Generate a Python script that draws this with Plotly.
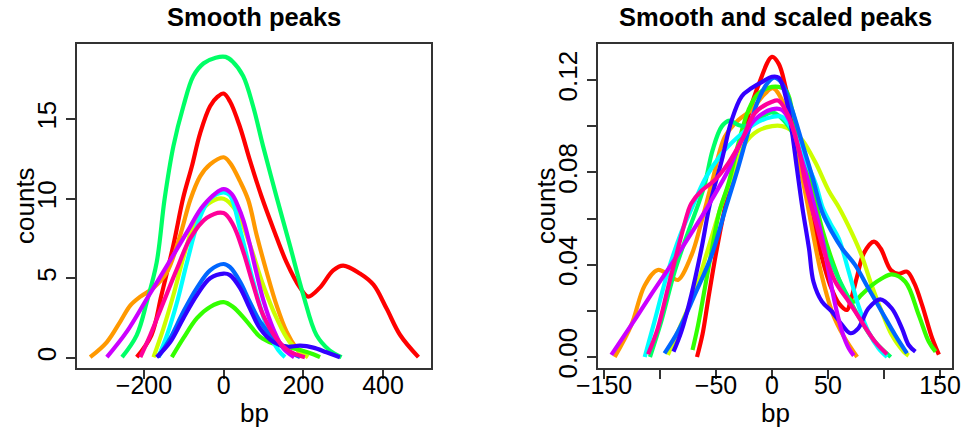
import plotly.graph_objects as go

# ---------------- data: left panel "Smooth peaks" (bp, counts) ----------------
left_red_bp = [-218, -181, -156, -126, -101, -80, -59, -34, -15, 0, 16, 41, 66, 95, 125, 158, 192, 212, 241, 275, 300, 342, 376, 409, 443, 489]
left_red_counts = [0.05, 1.44, 3.95, 7.1, 10.1, 12.0, 14.1, 15.8, 16.4, 16.6, 16.1, 14.5, 12.4, 10.15, 8.1, 6.0, 4.4, 3.85, 4.4, 5.5, 5.8, 5.3, 4.6, 3.1, 1.44, 0.05]
left_orange_bp = [-335, -293, -259, -234, -209, -176, -142, -109, -84, -59, -34, 0, 16, 41, 62, 83, 108, 133, 158, 183, 204]
left_orange_counts = [0.05, 1.0, 2.3, 3.3, 3.85, 4.4, 5.4, 7.7, 9.9, 11.4, 12.15, 12.6, 12.25, 11.1, 9.9, 7.7, 5.4, 3.3, 1.65, 0.6, 0.05]
left_yellow_bp = [-176, -151, -126, -101, -71, -38, 0, 32, 66, 99, 133, 166, 212]
left_yellow_counts = [0.05, 1.86, 3.95, 6.3, 8.6, 9.7, 10.0, 9.2, 7.1, 4.6, 2.5, 1.0, 0.05]
left_green_bp = [-130, -101, -67, -34, 0, 24, 58, 91, 125, 158, 192, 225, 242]
left_green_counts = [0.05, 1.24, 2.5, 3.2, 3.5, 3.2, 2.3, 1.34, 0.9, 0.71, 0.5, 0.23, 0.05]
left_spring_bp = [-255, -218, -193, -168, -148, -126, -101, -76, -50, -20, 5, 23, 49, 74, 99, 133, 166, 200, 233, 265, 296]
left_spring_counts = [0.05, 1.44, 3.5, 6.0, 10.0, 13.3, 15.8, 17.7, 18.5, 18.85, 18.9, 18.6, 17.7, 15.8, 13.3, 10.1, 7.1, 3.95, 1.44, 0.5, 0.05]
left_cyan_bp = [-164, -142, -117, -92, -63, -34, 0, 16, 41, 66, 91, 116, 137, 154]
left_cyan_counts = [0.05, 1.44, 3.5, 6.0, 8.6, 10.0, 10.4, 10.2, 8.1, 5.6, 3.3, 1.44, 0.5, 0.05]
left_blue_bp = [-164, -134, -101, -67, -34, 0, 16, 41, 66, 91, 125, 158, 192]
left_blue_counts = [0.05, 1.24, 2.9, 4.4, 5.5, 5.9, 5.7, 4.8, 3.5, 2.3, 1.24, 0.5, 0.05]
left_violet_bp = [-168, -134, -101, -67, -34, 0, 16, 41, 66, 91, 125, 158, 192, 225, 258, 292]
left_violet_counts = [0.05, 1.0, 2.5, 3.95, 5.0, 5.3, 5.2, 4.4, 3.1, 1.86, 1.0, 0.71, 0.77, 0.65, 0.36, 0.05]
left_purple_bp = [-293, -243, -193, -142, -92, -50, 0, 20, 35, 50, 65, 80, 100, 125, 150, 177]
left_purple_counts = [0.05, 1.65, 3.7, 5.8, 7.9, 9.6, 10.6, 10.3, 9.6, 8.6, 7.2, 5.6, 3.6, 1.8, 0.6, 0.05]
left_pink_bp = [-209, -184, -151, -117, -84, -42, 0, 24, 49, 74, 99, 133, 166, 204]
left_pink_counts = [0.05, 1.44, 3.5, 5.6, 7.5, 8.8, 9.1, 8.35, 6.7, 4.6, 2.7, 1.2, 0.4, 0.05]

# ---------------- data: right panel "Smooth and scaled peaks" ----------------
right_red_bp = [-67, -62, -57, -50, -42, -33, -24, -12, 0, 6, 12, 20, 28, 36, 44, 52, 60, 67, 70, 76, 82, 91, 97, 106, 113, 120.5, 127, 134, 143, 149]
right_red_counts = [0.0, 0.01, 0.025, 0.045, 0.065, 0.085, 0.1, 0.118, 0.130, 0.127, 0.117, 0.098, 0.078, 0.06, 0.044, 0.031, 0.023, 0.0204, 0.024, 0.035, 0.045, 0.050, 0.047, 0.0377, 0.036, 0.037, 0.032, 0.0225, 0.0081, 0.001]
right_orange_bp = [-140.5, -125.6, -113.7, -102, -90, -84, -72, -63, -54, -42, -30, -18.5, -6.5, 1, 12, 20, 26, 31, 36, 43.5, 54, 64, 76]
right_orange_counts = [0.0, 0.0139, 0.031, 0.0377, 0.0348, 0.0334, 0.044, 0.0586, 0.075, 0.0955, 0.1027, 0.107, 0.114, 0.1164, 0.108, 0.095, 0.08, 0.068, 0.055, 0.037, 0.019, 0.009, 0.0]
right_yellow_bp = [-93, -84, -69, -57, -45, -36, -24, -12.5, 0, 9, 18, 27, 39, 50.6, 59.5, 71, 80, 89, 98, 107, 117.6, 122]
right_yellow_counts = [0.0009, 0.011, 0.0283, 0.047, 0.066, 0.078, 0.0926, 0.098, 0.100, 0.100, 0.098, 0.094, 0.084, 0.072, 0.065, 0.054, 0.044, 0.031, 0.0196, 0.0095, 0.0023, 0.0006]
right_green_bp = [-71, -66, -60, -53, -47, -39, -30, -21, -12.5, 0, 12, 18, 24, 35, 45, 55, 65, 73, 80, 89, 98, 107, 119, 131, 140, 146]
right_green_counts = [0.003, 0.0139, 0.0298, 0.0485, 0.063, 0.075, 0.0926, 0.107, 0.114, 0.117, 0.1157, 0.107, 0.0955, 0.075, 0.055, 0.04, 0.028, 0.024, 0.027, 0.031, 0.034, 0.0358, 0.0326, 0.0182, 0.0066, 0.0023]
right_spring_bp = [-109, -99, -87, -75, -66, -60, -53, -45, -38, -30, -24, -12, 0, 15, 25, 35, 44.6, 56.5, 68.5, 80, 92, 106]
right_spring_counts = [0.0, 0.0153, 0.037, 0.054, 0.066, 0.075, 0.0897, 0.0998, 0.1024, 0.1005, 0.1, 0.103, 0.106, 0.0998, 0.088, 0.07, 0.0514, 0.037, 0.0254, 0.0153, 0.0066, 0.0]
right_cyan_bp = [-113.7, -105, -93, -81, -72, -60, -45, -30, -15.5, 0, 9, 21, 30, 39, 45, 52, 59.5, 68.5, 77, 86, 95, 102.7]
right_cyan_counts = [0.0, 0.0153, 0.037, 0.054, 0.064, 0.077, 0.088, 0.0955, 0.101, 0.104, 0.104, 0.0955, 0.085, 0.075, 0.065, 0.058, 0.0514, 0.037, 0.0225, 0.011, 0.0038, 0.0]
right_blue_bp = [-96, -84, -69, -54, -41, -30, -21, -12.5, -3.6, 2, 9, 18, 27, 36, 44.6, 53.6, 62.5, 74, 86, 98, 110, 120.5]
right_blue_counts = [0.0016, 0.011, 0.027, 0.044, 0.065, 0.0825, 0.098, 0.111, 0.119, 0.121, 0.1185, 0.107, 0.0926, 0.078, 0.063, 0.054, 0.047, 0.040, 0.0298, 0.0196, 0.0095, 0.0016]
right_violet_bp = [-88, -81, -72, -63, -55.6, -45, -36, -27, -18.5, -9.5, 0, 6, 13, 18, 22, 27, 33, 37, 44.6, 53.6, 62.5, 70, 77, 86, 96.7, 107, 116, 122, 128]
right_violet_counts = [0.0023, 0.011, 0.027, 0.047, 0.066, 0.085, 0.1027, 0.113, 0.1164, 0.119, 0.1214, 0.121, 0.111, 0.097, 0.0825, 0.065, 0.047, 0.0326, 0.024, 0.0196, 0.0139, 0.0103, 0.0124, 0.021, 0.025, 0.021, 0.0124, 0.0052, 0.0023]
right_purple_bp = [-143.5, -125.6, -108, -90, -75, -60, -54, -39, -27, -15.5, 0, 9, 18, 24, 30, 38, 44.6, 50.6, 56.5, 62.5, 68.5, 73]
right_purple_counts = [0.0009, 0.0139, 0.027, 0.040, 0.0514, 0.063, 0.068, 0.081, 0.094, 0.1027, 0.1073, 0.107, 0.0998, 0.0897, 0.08, 0.065, 0.052, 0.037, 0.0225, 0.011, 0.0038, 0.0006]
right_pink_bp = [-110.7, -102, -93, -84, -75, -72, -63, -51, -39, -27, -15.5, 0, 6, 15, 24, 30, 36, 39, 47.6, 56.5, 68.5, 80, 92, 102.7]
right_pink_counts = [0.0012, 0.0124, 0.0298, 0.047, 0.063, 0.0666, 0.072, 0.0767, 0.084, 0.094, 0.1056, 0.1106, 0.111, 0.104, 0.0897, 0.075, 0.0637, 0.0586, 0.044, 0.0326, 0.024, 0.0153, 0.0066, 0.0012]

series_colors = ["#FF0000", "#FF9900", "#CCFF00", "#33FF00", "#00FF66",
                 "#00FFFF", "#0066FF", "#3300FF", "#CC00FF", "#FF0099"]

left_series = [(left_red_bp, left_red_counts), (left_orange_bp, left_orange_counts),
               (left_yellow_bp, left_yellow_counts), (left_green_bp, left_green_counts),
               (left_spring_bp, left_spring_counts), (left_cyan_bp, left_cyan_counts),
               (left_blue_bp, left_blue_counts), (left_violet_bp, left_violet_counts),
               (left_purple_bp, left_purple_counts), (left_pink_bp, left_pink_counts)]
right_series = [(right_red_bp, right_red_counts), (right_orange_bp, right_orange_counts),
                (right_yellow_bp, right_yellow_counts), (right_green_bp, right_green_counts),
                (right_spring_bp, right_spring_counts), (right_cyan_bp, right_cyan_counts),
                (right_blue_bp, right_blue_counts), (right_violet_bp, right_violet_counts),
                (right_purple_bp, right_purple_counts), (right_pink_bp, right_pink_counts)]

left_xticks = [-200, 0, 200, 400]
left_xlabels = ["\u2212200", "0", "200", "400"]
left_yticks = [0, 5, 10, 15]
left_ylabels = ["0", "5", "10", "15"]
right_xticks = [-150, -100, -50, 0, 50, 100, 150]
right_xlabels = ["\u2212150", "", "\u221250", "0", "50", "", "150"]
right_yticks = [0.0, 0.02, 0.04, 0.06, 0.08, 0.10, 0.12]
right_ylabels = ["0.00", "", "0.04", "", "0.08", "", "0.12"]

titles = ["Smooth peaks", "Smooth and scaled peaks"]

W, H = 965, 437
FONT = "Liberation Sans, Arial, sans-serif"

fig = go.Figure()
for (xs, ys), c in zip(left_series, series_colors):
    fig.add_trace(go.Scatter(x=xs, y=ys, mode="lines", line=dict(color=c, width=4.2, shape="spline"),
                             xaxis="x", yaxis="y", showlegend=False, hoverinfo="skip"))
for (xs, ys), c in zip(right_series, series_colors):
    fig.add_trace(go.Scatter(x=xs, y=ys, mode="lines", line=dict(color=c, width=4.2, shape="spline"),
                             xaxis="x2", yaxis="y2", showlegend=False, hoverinfo="skip"))

box1 = (77, 431)
box2 = (598, 952)
top, bottom = 44, 368
ydom = [1 - bottom / H, 1 - top / H]

axis_common = dict(showline=True, mirror=True, linecolor="#333", linewidth=1.5,
                   ticks="outside", ticklen=9, tickwidth=1.5, tickcolor="#333",
                   showgrid=False, zeroline=False, automargin=False)

xtickfont = dict(family=FONT, size=25, color="black")
ytickfont = dict(family=FONT, size=26, color="black")

fig.update_layout(
    template="none",
    width=W, height=H, autosize=False,
    margin=dict(l=0, r=0, t=0, b=0, pad=0),
    paper_bgcolor="white", plot_bgcolor="white",
    xaxis=dict(domain=[box1[0] / W, box1[1] / W], range=[-368, 520.5], anchor="y",
               tickvals=left_xticks, ticktext=left_xlabels, ticklabelstandoff=-15,
               tickfont=xtickfont, **axis_common),
    yaxis=dict(domain=ydom, range=[-0.63, 19.71], anchor="x",
               tickvals=left_yticks, ticktext=left_ylabels, tickangle=-90,
               tickfont=ytickfont, **axis_common),
    xaxis2=dict(domain=[box2[0] / W, box2[1] / W], range=[-155.4, 160.7], anchor="y2",
                tickvals=right_xticks, ticktext=right_xlabels, ticklabelstandoff=-15,
                tickfont=xtickfont, **axis_common),
    yaxis2=dict(domain=ydom, range=[-0.00477, 0.1356], anchor="x2",
                tickvals=right_yticks, ticktext=right_ylabels, tickangle=-90,
                tickfont=ytickfont, **axis_common),
)

annotations = []
for (bx0, bx1), t in zip([box1, box2], titles):
    cx = (bx0 + bx1) / 2 / W
    annotations.append(dict(text="<b>%s</b>" % t, x=cx, y=1 - 17 / H, xref="paper", yref="paper",
                            showarrow=False, font=dict(family=FONT, size=25.5, color="black"),
                            xanchor="center", yanchor="middle"))
    annotations.append(dict(text="bp", x=cx, y=1 - 413 / H, xref="paper", yref="paper",
                            showarrow=False, font=dict(family=FONT, size=26, color="black"),
                            xanchor="center", yanchor="middle"))
for lx in [25, 546]:
    annotations.append(dict(text="counts", x=lx / W, y=1 - 206 / H, xref="paper", yref="paper",
                            showarrow=False, textangle=-90,
                            font=dict(family=FONT, size=26, color="black"),
                            xanchor="center", yanchor="middle"))
fig.update_layout(annotations=annotations)

fig.write_html("out.html")
